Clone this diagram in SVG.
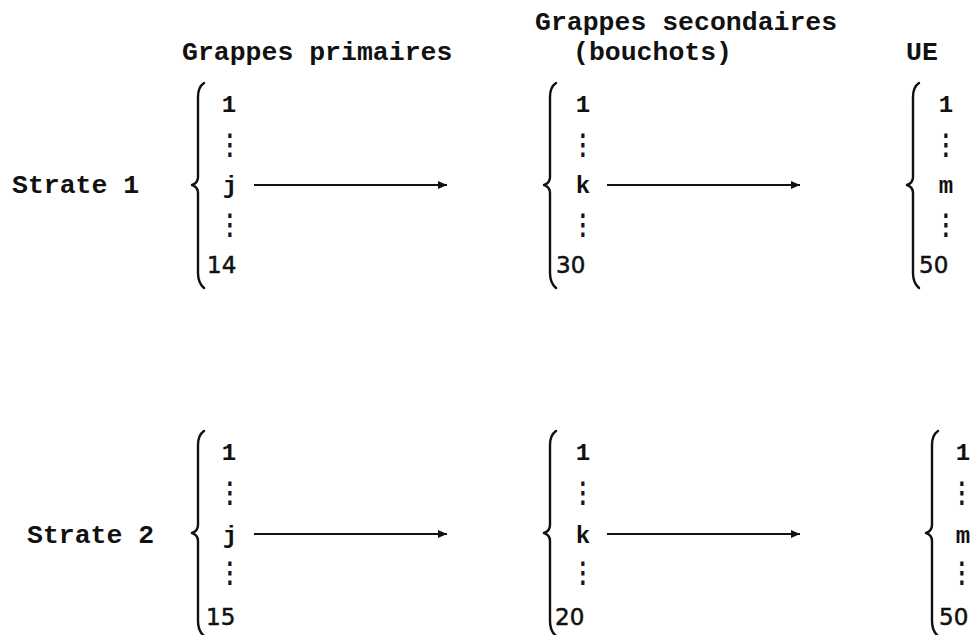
<svg xmlns="http://www.w3.org/2000/svg" width="974" height="635" viewBox="0 0 974 635">
<style>
.t{font-family:"Liberation Mono","Courier New",monospace;font-weight:bold;font-size:26.5px;fill:#111}
.i{font-family:"Liberation Mono","Courier New",monospace;font-weight:bold;font-size:24px;fill:#111;text-anchor:middle}
.n{font-family:"DejaVu Sans","Open Sans",sans-serif;font-size:23px;fill:#111;stroke:#111;stroke-width:0.5}
.d{font-family:"DejaVu Sans",sans-serif;font-size:22px;fill:#111;stroke:#111;stroke-width:0.8;text-anchor:middle}
.b{fill:none;stroke:#111;stroke-width:2.4;stroke-linecap:round;stroke-linejoin:round}
.a{stroke:#111;stroke-width:2;fill:none}
</style>
<defs>
<marker id="ah" markerWidth="10" markerHeight="8" refX="9" refY="4" orient="auto" markerUnits="userSpaceOnUse">
<path d="M0,0 L9,4 L0,8 Z" fill="#111"/>
</marker>
<path id="br" d="M6,-102 Q0,-98 0,-88 L0,-8 Q0,-2 -6,0 Q0,2 0,8 L0,88 Q0,98 6,103" class="b"/>
</defs>
<rect width="974" height="635" fill="#fff"/>
<g id="headers">
<text class="t" x="182" y="60">Grappes primaires</text>
<text class="t" x="535" y="30">Grappes secondaires</text>
<text class="t" x="573" y="60">(bouchots)</text>
<text class="t" x="906" y="60">UE</text>
</g>
<g id="strate1-label"><text class="t" x="12" y="193">Strate 1</text></g>
<g id="strate2-label"><text class="t" x="27" y="543">Strate 2</text></g>
<g id="s1-primaires">
<use href="#br" x="198" y="185"/>
<text class="i" x="229" y="112">1</text>
<text class="d" transform="translate(230,154) scale(1,1.27)">⋮</text>
<text class="i" x="230" y="193">j</text>
<text class="d" transform="translate(230,234) scale(1,1.27)">⋮</text>
<text class="n" x="207" y="273">14</text>
</g>
<g id="s1-secondaires">
<use href="#br" x="550" y="185"/>
<text class="i" x="583" y="112">1</text>
<text class="d" transform="translate(583,154) scale(1,1.27)">⋮</text>
<text class="i" x="583" y="193">k</text>
<text class="d" transform="translate(583,234) scale(1,1.27)">⋮</text>
<text class="n" x="556" y="273">30</text>
</g>
<g id="s1-ue">
<use href="#br" x="913" y="185"/>
<text class="i" x="946" y="112">1</text>
<text class="d" transform="translate(946,154) scale(1,1.27)">⋮</text>
<text class="i" x="946" y="193">m</text>
<text class="d" transform="translate(946,234) scale(1,1.27)">⋮</text>
<text class="n" x="919" y="273">50</text>
</g>
<g id="s2-primaires">
<use href="#br" x="198" y="533"/>
<text class="i" x="229" y="460">1</text>
<text class="d" transform="translate(230,502) scale(1,1.27)">⋮</text>
<text class="i" x="230" y="543">j</text>
<text class="d" transform="translate(230,582) scale(1,1.27)">⋮</text>
<text class="n" x="206" y="625">15</text>
</g>
<g id="s2-secondaires">
<use href="#br" x="550" y="533"/>
<text class="i" x="583" y="460">1</text>
<text class="d" transform="translate(583,502) scale(1,1.27)">⋮</text>
<text class="i" x="583" y="543">k</text>
<text class="d" transform="translate(583,582) scale(1,1.27)">⋮</text>
<text class="n" x="555" y="625">20</text>
</g>
<g id="s2-ue">
<use href="#br" x="932" y="533"/>
<text class="i" x="963" y="460">1</text>
<text class="d" transform="translate(962,502) scale(1,1.27)">⋮</text>
<text class="i" x="963" y="543">m</text>
<text class="d" transform="translate(962,582) scale(1,1.27)">⋮</text>
<text class="n" x="939" y="625">50</text>
</g>
<g id="connectors">
<line class="a" x1="254" y1="185" x2="447" y2="185" marker-end="url(#ah)"/>
<line class="a" x1="607" y1="185" x2="800" y2="185" marker-end="url(#ah)"/>
<line class="a" x1="254" y1="534" x2="447" y2="534" marker-end="url(#ah)"/>
<line class="a" x1="607" y1="534" x2="800" y2="534" marker-end="url(#ah)"/>
</g>
</svg>
